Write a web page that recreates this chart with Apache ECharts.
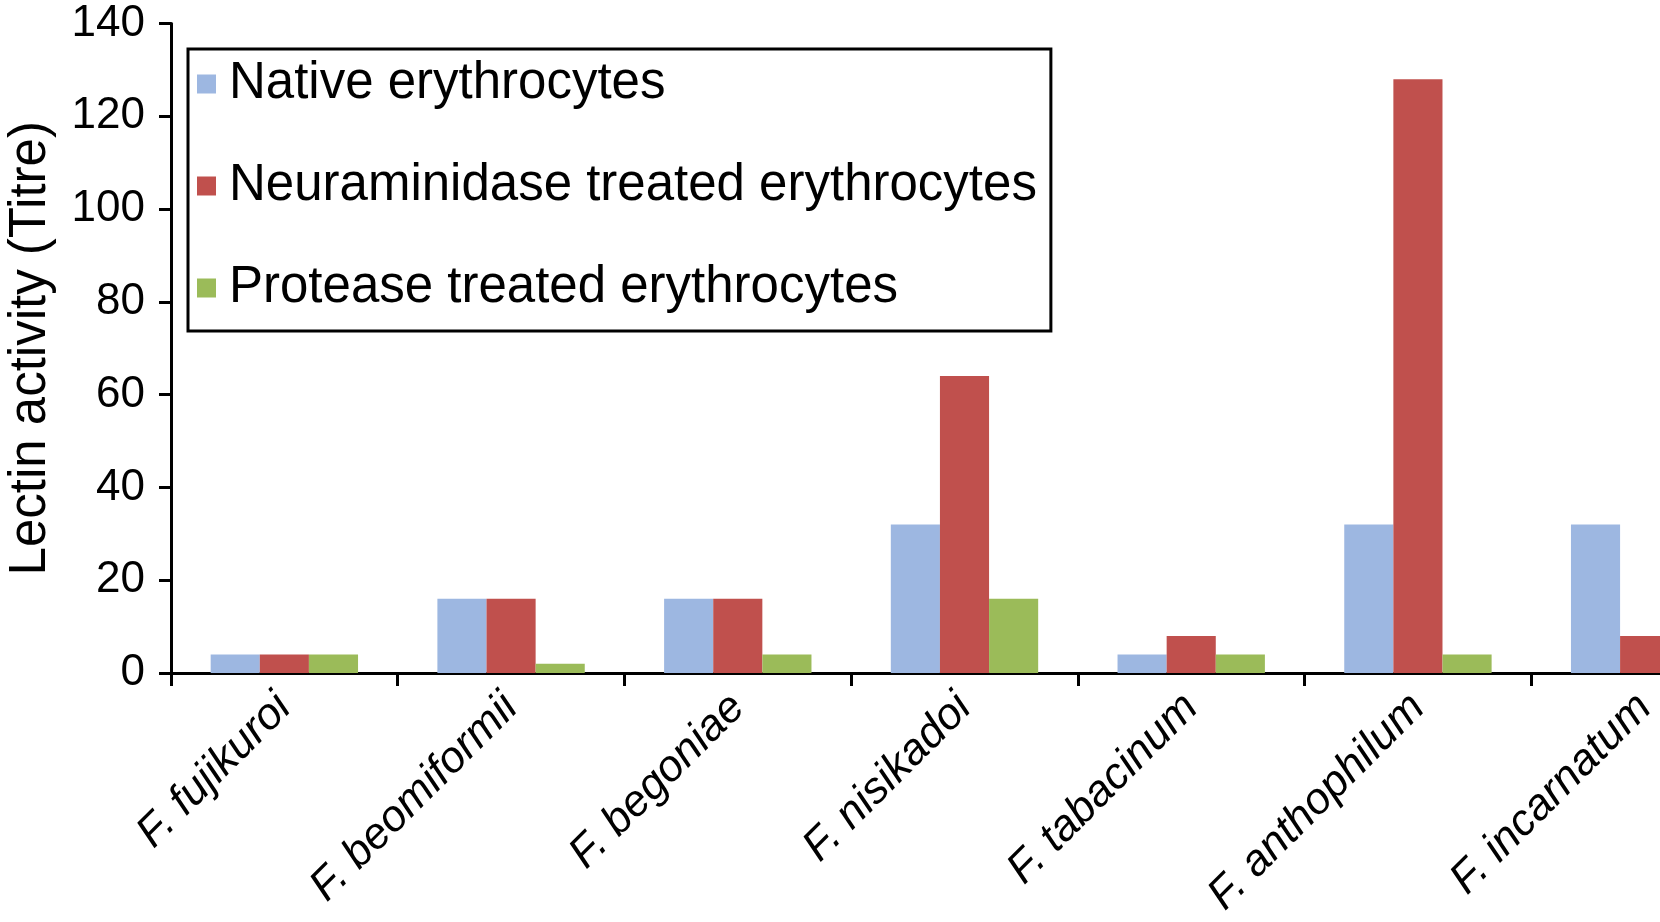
<!DOCTYPE html>
<html>
<head>
<meta charset="utf-8">
<script src="https://cdn.jsdelivr.net/npm/echarts@6/dist/echarts.min.js"></script>
<style>
html,body{margin:0;padding:0;background:#fff;}
#chart{width:1660px;height:922px;}
</style>
</head>
<body>
<div id="chart"></div>
<script>
const categories = ['F. fujikuroi','F. beomiformii','F. begoniae','F. nisikadoi','F. tabacinum','F. anthophilum','F. incarnatum'];
const seriesNames = ['Native erythrocytes','Neuraminidase treated erythrocytes','Protease treated erythrocytes'];
const nativeVals = [4, 16, 16, 32, 4, 32, 32];
const neuraminidaseVals = [4, 16, 16, 64, 8, 128, 8];
const proteaseVals = [4, 2, 4, 16, 4, 4, null];
const yTicks = {min: 0, max: 140, interval: 20};
const colors = ['#9DB7E1', '#C0504D', '#9BBB59'];

const font = 'Liberation Sans, Arial, Helvetica, sans-serif';
const chart = echarts.init(document.getElementById('chart'));
const dataSets = [nativeVals, neuraminidaseVals, proteaseVals];
chart.setOption({
  animation: false,
  backgroundColor: '#fff',
  grid: {left: 171, top: 23.5, height: 649.5, width: 1587, containLabel: false, outerBoundsMode: 'none'},
  legend: {
    orient: 'vertical',
    left: 188, top: 49,
    data: seriesNames,
    icon: 'rect',
    itemWidth: 19, itemHeight: 19,
    itemGap: 50,
    padding: [9, 14, 17, 9],
    borderColor: '#000', borderWidth: 3,
    backgroundColor: '#fff',
    textStyle: {fontFamily: font, fontSize: 51, color: '#000', lineHeight: 52, padding: [0,0,0,8]},
  },
  xAxis: {
    type: 'category',
    data: categories,
    axisLine: {lineStyle: {color: '#000', width: 3}},
    axisTick: {show: true, length: 13, lineStyle: {color: '#000', width: 3}},
    axisLabel: {rotate: 45, fontFamily: font, fontSize: 44, fontStyle: 'italic', color: '#000', margin: 28, interval: 0},
  },
  yAxis: {
    type: 'value',
    min: yTicks.min, max: yTicks.max, interval: yTicks.interval,
    name: 'Lectin activity (Titre)',
    nameLocation: 'middle',
    nameGap: 115,
    nameTextStyle: {fontFamily: font, fontSize: 51, color: '#000'},
    splitLine: {show: false},
    axisLine: {show: true, lineStyle: {color: '#000', width: 3}},
    axisTick: {show: true, length: 12, lineStyle: {color: '#000', width: 3}},
    axisLabel: {fontFamily: font, fontSize: 44, color: '#000', margin: 26},
  },
  series: seriesNames.map((n, i) => ({
    name: n, type: 'bar', data: dataSets[i],
    barGap: '0%', barCategoryGap: '35%',
    itemStyle: {color: colors[i]},
  })),
});
</script>
</body>
</html>
